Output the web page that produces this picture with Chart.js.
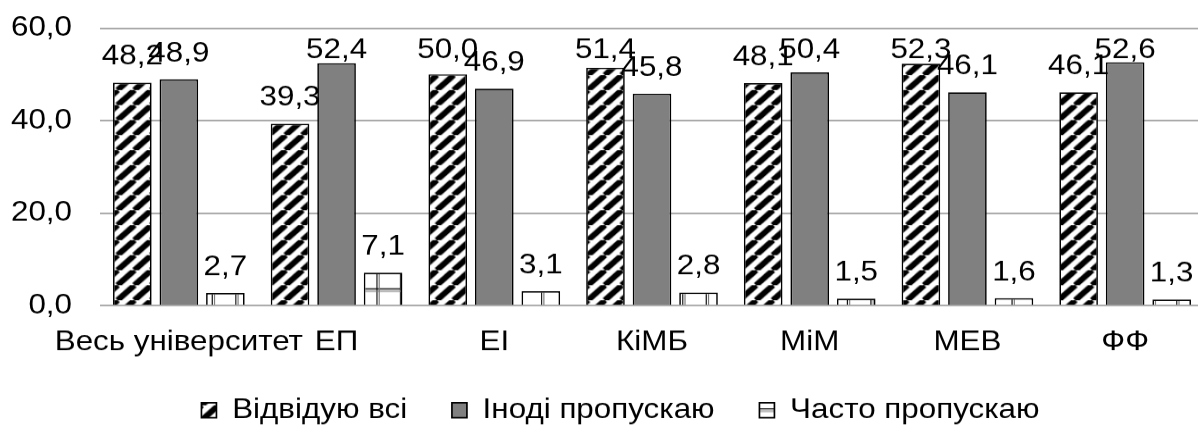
<!DOCTYPE html>
<html>
<head>
<meta charset="utf-8">
<script src="https://cdn.jsdelivr.net/npm/chart.js"></script>
<style>
  html, body { margin: 0; padding: 0; background: #fff; width: 1198px; height: 435px; overflow: hidden; }
</style>
</head>
<body>
<canvas id="chart" height="435" style="width:1240px;height:435px"></canvas>
<script>
// data
const categories = ['Весь університет', 'ЕП', 'ЕІ', 'КіМБ', 'МіМ', 'МЕВ', 'ФФ'];
const seriesNames = ['Відвідую всі', 'Іноді пропускаю', 'Часто пропускаю'];
const attendAll = [48.2, 39.3, 50.0, 51.4, 48.1, 52.3, 46.1];
const missSometimes = [48.9, 52.4, 46.9, 45.8, 50.4, 46.1, 52.6];
const missOften = [2.7, 7.1, 3.1, 2.8, 1.5, 1.6, 1.3];
const yTicks = [0, 20, 40, 60];

// the reference is stretched sideways, so draw narrower and stretch the canvas
const W = 1107;
const SX = 1240 / W;
const FONT = 28;
const fontFamily = '"Liberation Sans", Arial, sans-serif';
const fmt = v => v.toFixed(1).replace('.', ',');

const canvas = document.getElementById('chart');
canvas.width = W;

function hatchPattern() {
  const T = 15;
  const c = document.createElement('canvas');
  c.width = T; c.height = T;
  const g = c.getContext('2d');
  g.fillStyle = '#fff';
  g.fillRect(0, 0, T, T);
  g.strokeStyle = '#000';
  g.lineWidth = 5.5;
  for (let k = -1; k <= 1; k++) {
    g.beginPath();
    g.moveTo(k * T, T);
    g.lineTo(k * T + T, 0);
    g.stroke();
  }
  return g.createPattern(c, 'repeat');
}

function gridPattern() {
  const w = Math.round(24 / SX), h = 24;
  const c = document.createElement('canvas');
  c.width = w; c.height = h;
  const g = c.getContext('2d');
  g.fillStyle = '#fff';
  g.fillRect(0, 0, w, h);
  g.fillStyle = '#000';
  g.fillRect(0, 0, 1, h);
  g.fillRect(0, 0, w, 1.2);
  g.fillStyle = '#777';
  g.fillRect(2, 0, 1, h);
  g.fillRect(0, 2.5, w, 1);
  return g.createPattern(c, 'repeat');
}

const valueLabels = {
  id: 'valueLabels',
  afterDatasetsDraw(chart) {
    const ctx = chart.ctx;
    ctx.save();
    ctx.font = FONT + 'px ' + fontFamily;
    ctx.fillStyle = '#000';
    ctx.textAlign = 'center';
    ctx.textBaseline = 'alphabetic';
    chart.data.datasets.forEach((ds, i) => {
      chart.getDatasetMeta(i).data.forEach((bar, j) => {
        const y = Math.max(bar.y - 18, 58);
        ctx.fillText(fmt(ds.data[j]), bar.x, y);
      });
    });
    ctx.restore();
  }
};

// nudge the legend right and up to where it sits in the reference
const legendShift = {
  id: 'legendShift',
  afterLayout(chart) {
    const s = 18.5 / SX;
    chart.legend.left += s;
    chart.legend.right += s;
    chart.legend.top -= 15;
    chart.legend.bottom -= 15;
  }
};

new Chart(canvas, {
  type: 'bar',
  data: {
    labels: categories,
    datasets: [
      { label: seriesNames[0], data: attendAll, backgroundColor: hatchPattern(), borderColor: '#000', borderWidth: 1.5 },
      { label: seriesNames[1], data: missSometimes, backgroundColor: '#808080', borderColor: '#000', borderWidth: 1.5 },
      { label: seriesNames[2], data: missOften, backgroundColor: gridPattern(), borderColor: '#000', borderWidth: 1.5 }
    ]
  },
  plugins: [valueLabels, legendShift],
  options: {
    responsive: false,
    devicePixelRatio: SX,
    animation: false,
    datasets: {
      bar: { categoryPercentage: 0.885, barPercentage: 0.83 }
    },
    layout: { padding: { left: 0, right: 36 / SX, top: 28, bottom: -14 } },
    scales: {
      x: {
        grid: { display: false },
        border: { display: false },
        ticks: {
          color: '#000',
          font: { size: FONT, family: fontFamily },
          maxRotation: 0, minRotation: 0, autoSkip: false,
          padding: 12
        }
      },
      y: {
        min: 0,
        max: 60,
        afterBuildTicks(scale) { scale.ticks = yTicks.map(v => ({ value: v })); },
        afterFit(scale) { scale.width = 100 / SX; },
        grid: { color: '#a0a0a0', lineWidth: 1.5, drawTicks: true, tickLength: 28 / SX, tickColor: 'rgba(0,0,0,0)' },
        border: { display: false },
        ticks: {
          color: '#000',
          font: { size: FONT, family: fontFamily },
          padding: 0,
          callback: v => fmt(v)
        }
      }
    },
    plugins: {
      tooltip: { enabled: false },
      legend: {
        position: 'bottom',
        labels: {
          color: '#000',
          font: { size: FONT, family: fontFamily },
          boxWidth: 15 / SX,
          boxHeight: 15,
          padding: 40
        }
      }
    }
  }
});
</script>
</body>
</html>
